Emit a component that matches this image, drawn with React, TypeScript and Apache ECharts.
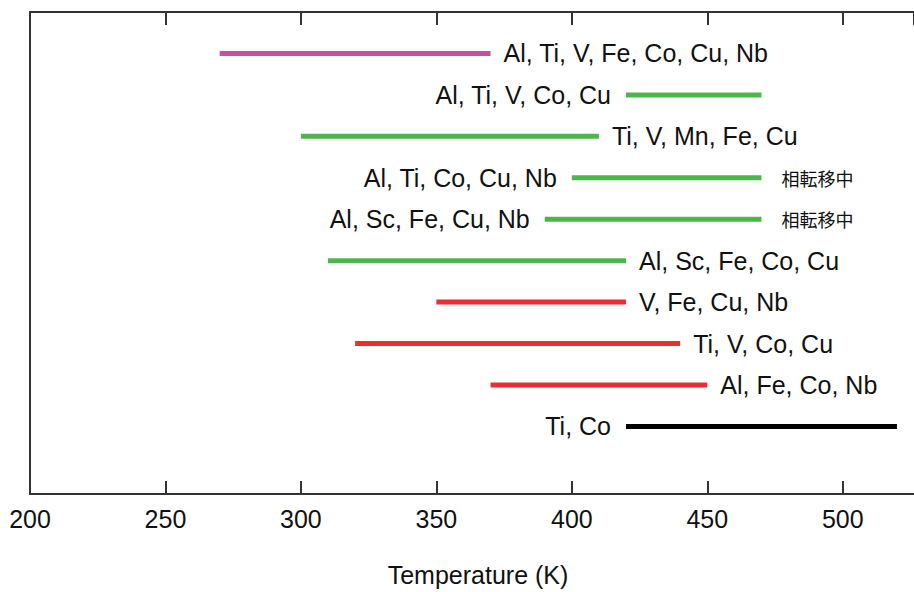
import React, { useEffect, useRef } from "react";
import * as echarts from "echarts";

// Row data (top to bottom)
const labels = [
  "Al, Ti, V, Fe, Co, Cu, Nb",
  "Al, Ti, V, Co, Cu",
  "Ti, V, Mn, Fe, Cu",
  "Al, Ti, Co, Cu, Nb",
  "Al, Sc, Fe, Cu, Nb",
  "Al, Sc, Fe, Co, Cu",
  "V, Fe, Cu, Nb",
  "Ti, V, Co, Cu",
  "Al, Fe, Co, Nb",
  "Ti, Co",
];
const starts = [270, 420, 300, 400, 390, 310, 350, 320, 370, 420];
const ends = [370, 470, 410, 470, 470, 420, 420, 440, 450, 520];
const sides = ["right", "left", "right", "left", "left", "right", "right", "right", "right", "left"];
const notes = ["", "", "", "相転移中", "相転移中", "", "", "", "", ""];
const groups = ["magenta", "green", "green", "green", "green", "green", "red", "red", "red", "black"];
const groupColors: Record<string, string> = {
  magenta: "#c8509e",
  green: "#4cb748",
  red: "#ec2e34",
  black: "#000000",
};
const xMin = 200;
const xMax = 526.3;
const xInterval = 50;

export default function App() {
  const ref = useRef<HTMLDivElement>(null);
  useEffect(() => {
    if (!ref.current) return;
    const chart = echarts.init(ref.current, null, { renderer: "svg" });
    const data = labels.map((l, i) => [starts[i], ends[i], i + 1, i]);
    const font = "Liberation Sans, Arial, sans-serif";
    const axisCommon = {
      type: "value",
      min: xMin,
      max: xMax,
      interval: xInterval,
      axisLine: { show: true, onZero: false, lineStyle: { color: "#333", width: 2 } },
      axisTick: { show: true, inside: true, length: 13, lineStyle: { color: "#333", width: 2 } },
      splitLine: { show: false },
    };
    chart.setOption({
      animation: false,
      grid: { left: 30, top: 12, right: 0, bottom: 91 },
      xAxis: [
        {
          ...axisCommon,
          position: "bottom",
          axisLabel: {
            show: true,
            showMaxLabel: false,
            margin: 12,
            fontSize: 25,
            color: "#111",
            fontFamily: font,
          },
          name: "Temperature (K)",
          nameLocation: "middle",
          nameGap: 68,
          nameTextStyle: { fontSize: 25, color: "#111", fontFamily: font, padding: [0, 0, 0, 12] },
        },
        {
          ...axisCommon,
          position: "top",
          axisLabel: { show: false },
        },
      ],
      yAxis: {
        type: "value",
        min: 0,
        max: 11.63,
        inverse: true,
        axisLine: { show: true, onZero: false, lineStyle: { color: "#333", width: 2 } },
        axisTick: { show: false },
        axisLabel: { show: false },
        splitLine: { show: false },
      },
      series: [
        {
          type: "custom",
          data,
          clip: false,
          renderItem: (params: any, api: any) => {
            const s = api.value(0);
            const e = api.value(1);
            const row = api.value(2);
            const idx = api.value(3);
            const p1 = api.coord([s, row]);
            const p2 = api.coord([e, row]);
            const color = groupColors[groups[idx]];
            const children: any[] = [
              {
                type: "line",
                shape: { x1: p1[0], y1: p1[1], x2: p2[0], y2: p2[1] },
                style: { stroke: color, lineWidth: 5, lineCap: "butt" },
              },
            ];
            if (sides[idx] === "right") {
              children.push({
                type: "text",
                x: p2[0] + 13,
                y: p1[1],
                style: {
                  text: labels[idx],
                  fontSize: 25,
                  fontFamily: font,
                  fill: "#111",
                  textAlign: "left",
                  textVerticalAlign: "middle",
                },
              });
            } else {
              children.push({
                type: "text",
                x: p1[0] - 15,
                y: p1[1],
                style: {
                  text: labels[idx],
                  fontSize: 25,
                  fontFamily: font,
                  fill: "#111",
                  textAlign: "right",
                  textVerticalAlign: "middle",
                },
              });
            }
            if (notes[idx]) {
              children.push({
                type: "text",
                x: p2[0] + 20,
                y: p1[1],
                style: {
                  text: notes[idx],
                  fontSize: 18,
                  fontFamily: "Noto Sans CJK JP, sans-serif",
                  fill: "#111",
                  textAlign: "left",
                  textVerticalAlign: "middle",
                },
              });
            }
            return { type: "group", children };
          },
        },
      ],
    });
    return () => chart.dispose();
  }, []);
  return <div ref={ref} style={{ width: 914, height: 592, position: "absolute", left: 0, top: 0 }} />;
}
